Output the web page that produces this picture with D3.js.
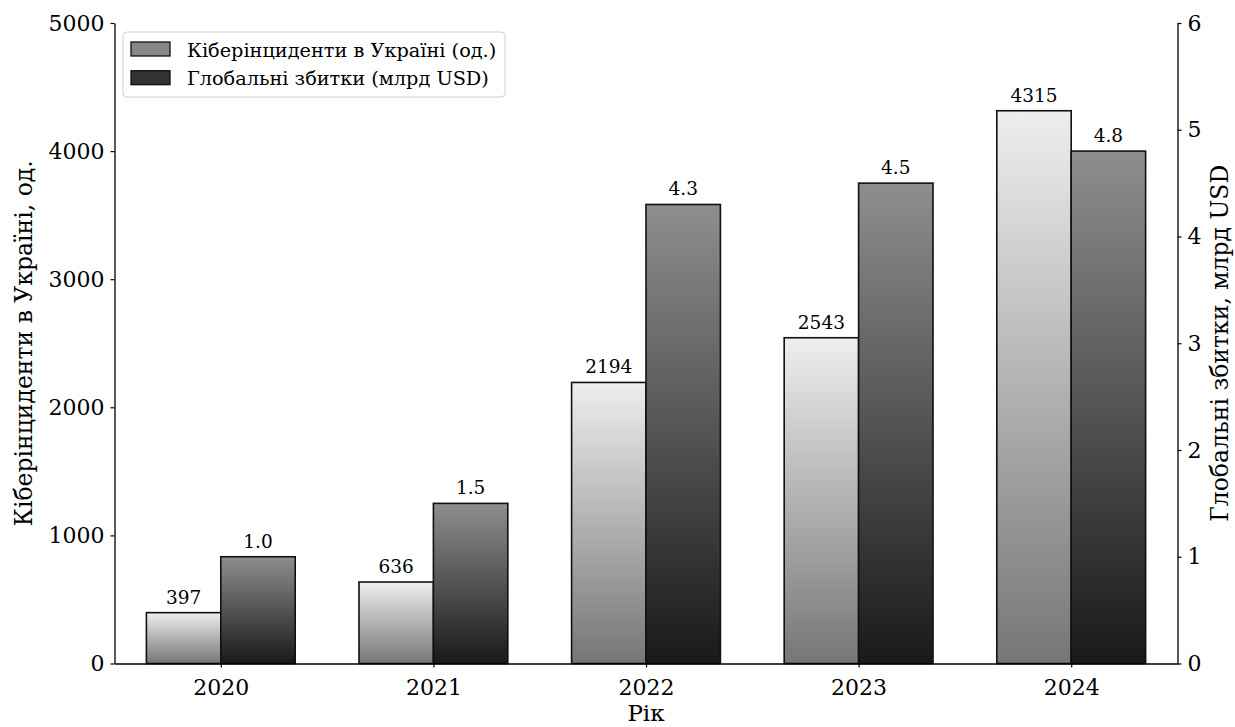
<!DOCTYPE html>
<html>
<head>
<meta charset="utf-8">
<script src="https://cdn.jsdelivr.net/npm/d3@7"></script>
<style>
  html, body { margin: 0; padding: 0; background: #fff; }
  svg { display: block; }
  text { font-family: "DejaVu Serif", serif; fill: #000; }
</style>
</head>
<body>
<svg id="chart" width="1235" height="727"></svg>
<script>
// Data
const years = ["2020", "2021", "2022", "2023", "2024"];
const incidents = [397, 636, 2194, 2543, 4315];
const losses = [1.0, 1.5, 4.3, 4.5, 4.8];
const leftTicks = [0, 1000, 2000, 3000, 4000, 5000];
const rightTicks = [0, 1, 2, 3, 4, 5, 6];
const seriesNames = ["Кіберінциденти в Україні (од.)", "Глобальні збитки (млрд USD)"];

const svg = d3.select("#chart");
const margin = { left: 114.5, right: 1177.5, top: 23, bottom: 663.5 };

const x = d3.scaleLinear().domain([-0.5, years.length - 0.5]).range([margin.left, margin.right]);
const yL = d3.scaleLinear().domain([0, 5000]).range([margin.bottom, margin.top]);
const yR = d3.scaleLinear().domain([0, 6]).range([margin.bottom, margin.top]);
const barW = 0.35;

// Vertical gradients, each spanning its own bar
const defs = svg.append("defs");
function grad(id, top, bottom) {
  const g = defs.append("linearGradient").attr("id", id)
    .attr("gradientUnits", "objectBoundingBox")
    .attr("x1", 0).attr("y1", 0).attr("x2", 0).attr("y2", 1);
  g.append("stop").attr("offset", "0%").attr("stop-color", top);
  g.append("stop").attr("offset", "100%").attr("stop-color", bottom);
}
grad("gLight", "#eeeeee", "#767676");
grad("gDark", "#8e8e8e", "#191919");

const bars = svg.append("g");
// incidents bars (left axis)
bars.selectAll("rect.inc").data(incidents).join("rect")
  .attr("class", "inc")
  .attr("x", (d, i) => x(i - barW))
  .attr("width", (d, i) => x(i) - x(i - barW))
  .attr("y", d => yL(d))
  .attr("height", d => yL(0) - yL(d))
  .attr("fill", "url(#gLight)")
  .attr("stroke", "#111").attr("stroke-width", 1.6);

// losses bars (right axis)
bars.selectAll("rect.loss").data(losses).join("rect")
  .attr("class", "loss")
  .attr("x", (d, i) => x(i))
  .attr("width", (d, i) => x(i + barW) - x(i))
  .attr("y", d => yR(d))
  .attr("height", d => yR(0) - yR(d))
  .attr("fill", "url(#gDark)")
  .attr("stroke", "#111").attr("stroke-width", 1.6);

// value labels
const lbl = svg.append("g").attr("font-size", 18.5).attr("text-anchor", "middle");
lbl.selectAll("text.inc").data(incidents).join("text")
  .attr("x", (d, i) => x(i - barW / 2))
  .attr("y", d => yL(d) - 9)
  .text(d => d);
lbl.selectAll("text.loss").data(losses).join("text")
  .attr("x", (d, i) => x(i + barW / 2))
  .attr("y", d => yR(d) - 9)
  .text(d => d.toFixed(1));

// axes
function styleAxis(g) {
  g.selectAll("path").attr("stroke", "#000").attr("stroke-width", 1.3);
  g.selectAll("line").attr("stroke", "#000").attr("stroke-width", 1.2);
  g.selectAll("text").attr("font-size", 22).attr("font-family", "DejaVu Serif").attr("fill", "#000");
}
const xAxis = svg.append("g").attr("transform", `translate(0,${margin.bottom})`)
  .call(d3.axisBottom(x).tickValues(d3.range(years.length)).tickFormat(i => years[i])
    .tickSizeInner(4).tickSizeOuter(0).tickPadding(5));
styleAxis(xAxis);
xAxis.selectAll("text").attr("dy", null).attr("y", 31);

const lAxis = svg.append("g").attr("transform", `translate(${margin.left},0)`)
  .call(d3.axisLeft(yL).tickValues(leftTicks).tickFormat(d3.format("d"))
    .tickSizeInner(4).tickSizeOuter(0).tickPadding(6));
styleAxis(lAxis);

const rAxis = svg.append("g").attr("transform", `translate(${margin.right},0)`)
  .call(d3.axisRight(yR).tickValues(rightTicks).tickFormat(d3.format("d"))
    .tickSizeInner(4).tickSizeOuter(0).tickPadding(6));
styleAxis(rAxis);

// axis titles
const midY = (margin.top + margin.bottom) / 2;
svg.append("text").attr("font-size", 23.5).attr("text-anchor", "middle")
  .attr("transform", `translate(32,${midY}) rotate(-90)`)
  .text("Кіберінциденти в Україні, од.");
svg.append("text").attr("font-size", 23.5).attr("text-anchor", "middle")
  .attr("transform", `translate(1228,${midY}) rotate(-90)`)
  .text("Глобальні збитки, млрд USD");
svg.append("text").attr("font-size", 23).attr("text-anchor", "middle")
  .attr("x", (margin.left + margin.right) / 2).attr("y", 721)
  .text("Рік");

// legend
const leg = svg.append("g").attr("transform", "translate(123,32)");
leg.append("rect").attr("width", 382).attr("height", 65).attr("rx", 4)
  .attr("fill", "#fff").attr("fill-opacity", 0.8)
  .attr("stroke", "#d0d0d0").attr("stroke-width", 1);
const legFills = ["#888888", "#333333"];
seriesNames.forEach((name, i) => {
  const yy = 10 + i * 28.7;
  leg.append("rect").attr("x", 8).attr("y", yy).attr("width", 39).attr("height", 14)
    .attr("fill", legFills[i]).attr("stroke", "#111").attr("stroke-width", 1.3);
  leg.append("text").attr("x", 64).attr("y", yy + 14.5).attr("font-size", 19.3).text(name);
});
</script>
</body>
</html>
